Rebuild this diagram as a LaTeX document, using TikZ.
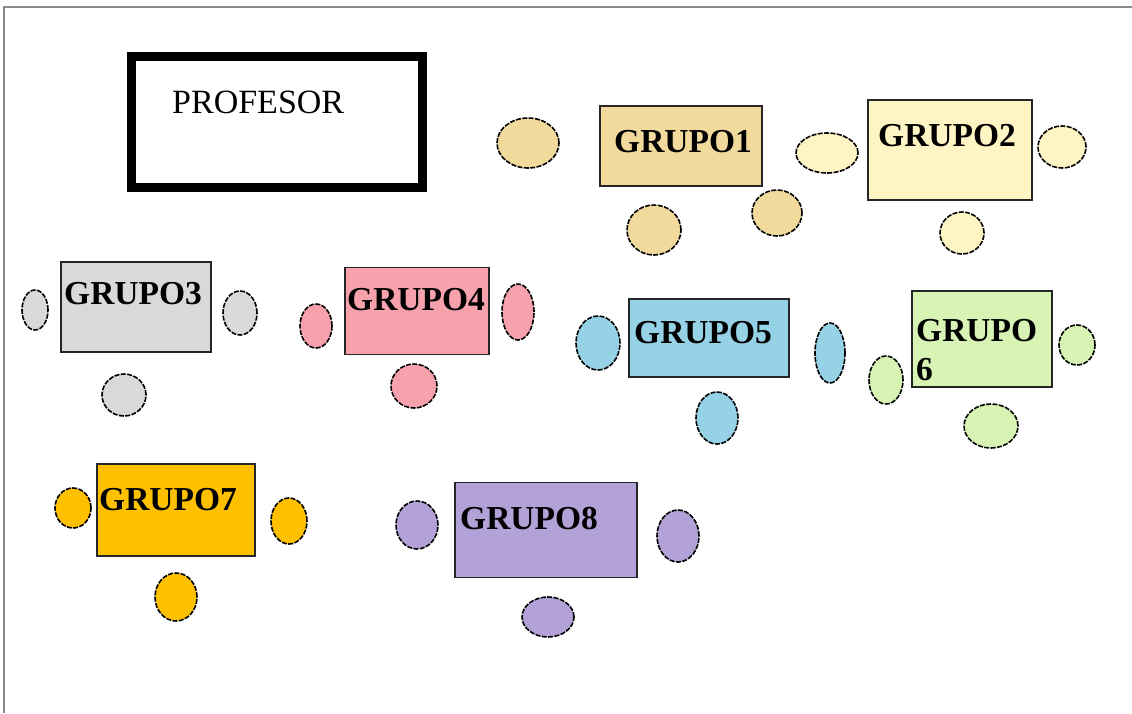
\documentclass[tikz,border=0pt]{standalone}
\usepackage{fontspec}
\setmainfont{Liberation Serif}
\usetikzlibrary{shapes.geometric}
\definecolor{cA}{HTML}{F1DA9C}
\definecolor{cB}{HTML}{FFF5C4}
\definecolor{cC}{HTML}{D9D9D9}
\definecolor{cD}{HTML}{F7A1AD}
\definecolor{cE}{HTML}{95D2E6}
\definecolor{cF}{HTML}{D7F4B4}
\definecolor{cG}{HTML}{FFC000}
\definecolor{cH}{HTML}{B3A2D7}
\definecolor{frame}{HTML}{8A8A8A}
\tikzset{
  table/.style={draw=black!85, line width=1.5pt, rectangle, inner sep=0pt, outer sep=0pt},
  chair/.style={draw=black, line width=1.6pt, dash pattern=on 5pt off 1.4pt, ellipse, inner sep=0pt, outer sep=0pt},
  lbl/.style={anchor=base west, inner sep=0pt, font=\fontsize{33.5}{38}\selectfont\bfseries},
}
\newcommand{\tbl}[6]{\node[table, fill=#6, minimum width=#4pt, minimum height=#5pt] (#1) at (#2,#3) {};}
\newcommand{\chr}[6]{\node[chair, fill=#6, minimum width=#4pt, minimum height=#5pt] (#1) at (#2,#3) {};}
\begin{document}
\begin{tikzpicture}[x=1pt,y=-1pt]
\useasboundingbox (0,0) rectangle (1132,713);
\fill[white] (0,0) rectangle (1132,713);
% frame
\coordinate (ftl) at (4,7);
\coordinate (ftr) at (1132,7);
\coordinate (fbl) at (4,713);
\draw[frame, line width=2pt] (ftr) -- (ftl) -- (fbl);
% profesor
\node[draw=black, line width=9pt, rectangle, minimum width=291pt, minimum height=131pt, inner sep=0pt] (prof) at (277,122) {};
\node[anchor=base west, inner sep=0pt, font=\fontsize{34}{38}\selectfont] (proft) at (172,113) {PROFESOR};
% group 1
\tbl{g1}{681}{146}{162}{80}{cA}
\node[lbl] (g1t) at (614,152) {GRUPO1};
\chr{g1a}{528}{143}{62}{50}{cA}
\chr{g1b}{654}{230}{54}{50}{cA}
\chr{g1c}{777}{213}{50}{46}{cA}
% group 2
\tbl{g2}{950}{150}{164}{100}{cB}
\node[lbl] (g2t) at (878,146) {GRUPO2};
\chr{g2a}{827}{153}{62}{40}{cB}
\chr{g2b}{1062}{147}{48}{42}{cB}
\chr{g2c}{962}{233}{44}{42}{cB}
% group 3
\tbl{g3}{136}{307}{150}{90}{cC}
\node[lbl] (g3t) at (64,304) {GRUPO3};
\chr{g3a}{35}{310}{26}{40}{cC}
\chr{g3b}{240}{313}{34}{44}{cC}
\chr{g3c}{124}{395}{44}{42}{cC}
% group 4
\tbl{g4}{417}{311}{144}{87}{cD}
\node[lbl] (g4t) at (347,310) {GRUPO4};
\chr{g4a}{316}{326}{32}{44}{cD}
\chr{g4b}{518}{312}{32}{56}{cD}
\chr{g4c}{414}{386}{46}{44}{cD}
% group 5
\tbl{g5}{709}{338}{160}{78}{cE}
\node[lbl] (g5t) at (634,343) {GRUPO5};
\chr{g5a}{598}{343}{44}{54}{cE}
\chr{g5b}{830}{353}{30}{60}{cE}
\chr{g5c}{717}{418}{42}{52}{cE}
% group 6
\tbl{g6}{982}{339}{140}{96}{cF}
\node[lbl] (g6t) at (916,341) {GRUPO};
\node[lbl] (g6u) at (916,380) {6};
\chr{g6a}{886}{380}{34}{48}{cF}
\chr{g6b}{1077}{345}{36}{40}{cF}
\chr{g6c}{991}{426}{54}{44}{cF}
% group 7
\tbl{g7}{176}{510}{158}{92}{cG}
\node[lbl] (g7t) at (99,510) {GRUPO7};
\chr{g7a}{73}{508}{36}{40}{cG}
\chr{g7b}{289}{521}{36}{46}{cG}
\chr{g7c}{176}{597}{42}{48}{cG}
% group 8
\tbl{g8}{546}{530}{182}{95}{cH}
\node[lbl] (g8t) at (460,529) {GRUPO8};
\chr{g8a}{417}{525}{42}{48}{cH}
\chr{g8b}{678}{536}{42}{52}{cH}
\chr{g8c}{548}{617}{52}{40}{cH}
\end{tikzpicture}
\end{document}
